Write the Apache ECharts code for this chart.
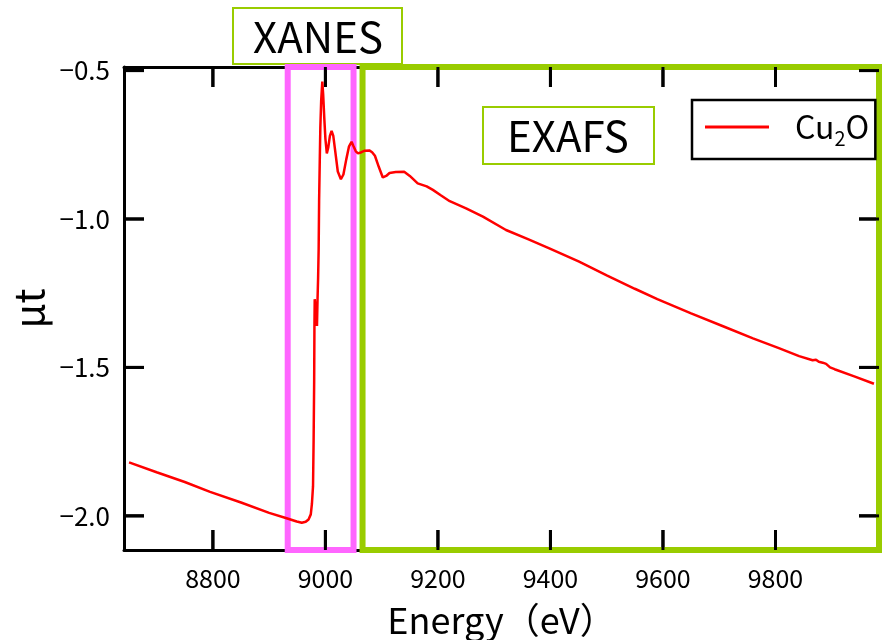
<!DOCTYPE html>
<html>
<head>
<meta charset="utf-8">
<script src="https://cdn.jsdelivr.net/npm/echarts@6/dist/echarts.min.js"></script>
<style>
  html, body { margin: 0; padding: 0; background: #fff; }
  #chart { width: 887px; height: 640px; }
</style>
</head>
<body>
<div id="chart"></div>
<script>
// Cu K-edge absorption of Cu2O
const energy = [
  8651, 8700, 8750, 8795, 8850, 8900, 8931, 8949, 8958, 8965,
  8970, 8974, 8976, 8978, 8979, 8980, 8980.5, 8981, 8985, 8986,
  8987, 8988, 8988.8, 8990, 8991, 8992.5, 8994.5, 8996, 8998, 9000,
  9002.5, 9005, 9008, 9011, 9014, 9018, 9022, 9027.5, 9032, 9037,
  9042, 9046.5, 9050, 9054, 9058, 9064, 9070, 9078, 9083, 9088,
  9095, 9102, 9108, 9114, 9125, 9140, 9150, 9164, 9180, 9191,
  9205, 9221, 9250, 9280, 9321, 9360, 9398, 9450, 9500, 9550,
  9590, 9650, 9709, 9760, 9806, 9842, 9866, 9872, 9877, 9884,
  9890, 9897, 9905, 9940, 9975
]
const mu = [
  -1.820, -1.853, -1.886, -1.919, -1.955, -1.990, -2.008, -2.019, -2.023, -2.020,
  -2.012, -1.995, -1.960, -1.900, -1.750, -1.550, -1.360, -1.270, -1.360, -1.270,
  -1.200, -1.100, -0.940, -0.800, -0.690, -0.600, -0.537, -0.580, -0.660, -0.730,
  -0.779, -0.760, -0.720, -0.703, -0.720, -0.780, -0.840, -0.866, -0.850, -0.800,
  -0.755, -0.740, -0.755, -0.772, -0.779, -0.775, -0.770, -0.769, -0.775, -0.787,
  -0.825, -0.860, -0.855, -0.845, -0.842, -0.841, -0.855, -0.880, -0.890, -0.902,
  -0.920, -0.940, -0.964, -0.992, -1.037, -1.068, -1.099, -1.143, -1.190, -1.235,
  -1.270, -1.318, -1.363, -1.402, -1.435, -1.462, -1.476, -1.474, -1.481, -1.484,
  -1.488, -1.500, -1.506, -1.530, -1.555
]

const xTicks = [8800, 9000, 9200, 9400, 9600, 9800]
const yTicks = [-2.0, -1.5, -1.0, -0.5]
const xRange = [8642, 9984]
const yRange = [-2.115, -0.488]

const xanesRange = [8933, 9050]
const exafsRange = [9066, 9989]

const FONT = '"Noto Sans CJK JP", "Noto Sans", sans-serif'
const GREEN = '#99cc00'
const PINK = '#ff66ff'
const TICK_LEN = 20
const TICK_W = 3

function onTick(list, v) {
  return list.some(t => Math.abs(t - v) < 1e-6)
}

function xLabel(v) {
  return onTick(xTicks, v) ? String(v) : ''
}

function yLabel(v) {
  if (!onTick(yTicks, v)) return ''
  return (v < 0 ? '\u2212' : '') + Math.abs(v).toFixed(1)
}

function xAxisBase(pos) {
  return {
    type: 'value',
    position: pos,
    min: xRange[0],
    max: xRange[1],
    splitNumber: 7,
    axisLine: { show: true, onZero: false, lineStyle: { color: '#000', width: 3 } },
    axisTick: { show: false },
    axisLabel: {
      show: pos === 'bottom',
      showMinLabel: false,
      showMaxLabel: false,
      margin: 16,
      color: '#000',
      fontSize: 25,
      fontFamily: FONT,
      formatter: xLabel
    },
    splitLine: { show: false }
  }
}

function yAxisBase(pos) {
  return {
    type: 'value',
    position: pos,
    min: yRange[0],
    max: yRange[1],
    splitNumber: 3,
    axisLine: { show: true, onZero: false, lineStyle: { color: '#000', width: 3 } },
    axisTick: { show: false },
    axisLabel: {
      show: pos === 'left',
      showMinLabel: false,
      showMaxLabel: false,
      margin: 14,
      color: '#000',
      fontSize: 26,
      fontFamily: FONT,
      formatter: yLabel
    },
    splitLine: { show: false }
  }
}

// inward tick marks as thin bars, placed through the axes' own scales
function tickRect(x, y, w, h) {
  return { type: 'rect', shape: { x, y, width: w, height: h }, style: { fill: '#000' } }
}

function renderXTicks(params, api) {
  const lo = api.coord([api.value(0), yRange[0]])
  const hi = api.coord([api.value(0), yRange[1]])
  return {
    type: 'group',
    children: [
      tickRect(lo[0] - TICK_W / 2, lo[1] - TICK_LEN, TICK_W, TICK_LEN),
      tickRect(hi[0] - TICK_W / 2, hi[1], TICK_W, TICK_LEN)
    ]
  }
}

function renderYTicks(params, api) {
  const l = api.coord([xRange[0], api.value(1)])
  const r = api.coord([xRange[1], api.value(1)])
  return {
    type: 'group',
    children: [
      tickRect(l[0], l[1] - TICK_W / 2, TICK_LEN, TICK_W),
      tickRect(r[0] - TICK_LEN, r[1] - TICK_W / 2, TICK_LEN, TICK_W)
    ]
  }
}

const chart = echarts.init(document.getElementById('chart'))

const xBottom = Object.assign(xAxisBase('bottom'), {
  name: 'Energy（eV）',
  nameLocation: 'middle',
  nameGap: 52,
  nameTextStyle: { fontSize: 36, color: '#000', fontFamily: FONT }
})
const yLeft = Object.assign(yAxisBase('left'), {
  name: 'μt',
  nameLocation: 'middle',
  nameRotate: 90,
  nameGap: 70,
  nameTextStyle: { fontSize: 40, color: '#000', fontFamily: FONT }
})

const boxes = [
  {
    type: 'group', z: 1,
    children: [
      { type: 'rect', shape: { x: 233, y: 8, width: 169, height: 56 },
        style: { fill: '#fff', stroke: GREEN, lineWidth: 2 } },
      { type: 'text', x: 318, y: 37,
        style: { text: 'XANES', font: '42px ' + FONT, fill: '#000', align: 'center', verticalAlign: 'middle' } }
    ]
  },
  {
    type: 'group', z: 1,
    children: [
      { type: 'rect', shape: { x: 483, y: 107, width: 171, height: 57 },
        style: { fill: '#fff', stroke: GREEN, lineWidth: 2 } },
      { type: 'text', x: 568, y: 136,
        style: { text: 'EXAFS', font: '42px ' + FONT, fill: '#000', align: 'center', verticalAlign: 'middle' } }
    ]
  }
]

chart.setOption({
  animation: false,
  grid: { left: 124, right: 8, top: 67, bottom: 90, containLabel: false, outerBoundsMode: 'none' },
  xAxis: [xBottom, xAxisBase('top')],
  yAxis: [yLeft, yAxisBase('right')],
  legend: {
    data: ['Cu₂O'],
    left: 692,
    top: 100,
    orient: 'vertical',
    icon: 'rect',
    itemWidth: 64,
    itemHeight: 3,
    padding: [11, 6, 11, 13],
    borderColor: '#000',
    borderWidth: 2.5,
    backgroundColor: '#fff',
    selectedMode: false,
    formatter: () => '{g|}{a|Cu}{s|2}{a|O}',
    textStyle: {
      rich: {
        g: { width: 21, lineHeight: 42 },
        a: { fontSize: 32, fontFamily: FONT, color: '#000', lineHeight: 42 },
        s: { fontSize: 20, fontFamily: FONT, color: '#000', lineHeight: 42, verticalAlign: 'bottom' }
      }
    }
  },
  graphic: boxes,
  series: [
    {
      name: 'Cu₂O',
      type: 'line',
      data: energy.map((e, i) => [e, mu[i]]),
      showSymbol: false,
      symbol: 'none',
      lineStyle: { color: '#ff0000', width: 2.5 },
      itemStyle: { color: '#ff0000' },
      z: 2
    },
    {
      name: 'xticks',
      type: 'custom',
      data: xTicks.map(v => [v, yRange[0]]),
      renderItem: renderXTicks,
      clip: false,
      silent: true,
      z: 1
    },
    {
      name: 'yticks',
      type: 'custom',
      data: yTicks.map(v => [xRange[0], v]),
      renderItem: renderYTicks,
      clip: false,
      silent: true,
      z: 1
    },
    {
      name: 'regions',
      type: 'line',
      data: [],
      clip: false,
      z: 5,
      markArea: {
        silent: true,
        label: { show: false },
        data: [
          [{ xAxis: xanesRange[0], itemStyle: { color: 'rgba(0,0,0,0)', borderColor: PINK, borderWidth: 6 } }, { xAxis: xanesRange[1] }],
          [{ xAxis: exafsRange[0], itemStyle: { color: 'rgba(0,0,0,0)', borderColor: GREEN, borderWidth: 6 } }, { xAxis: exafsRange[1] }]
        ]
      }
    }
  ]
})

// same ticks again as plain graphics, in case the custom series draws nothing
const extra = []
const gLeft = chart.convertToPixel({ xAxisIndex: 0 }, xRange[0])
const gRight = chart.convertToPixel({ xAxisIndex: 0 }, xRange[1])
const gTop = chart.convertToPixel({ yAxisIndex: 0 }, yRange[1])
const gBottom = chart.convertToPixel({ yAxisIndex: 0 }, yRange[0])
if ([gLeft, gRight, gTop, gBottom].every(isFinite)) {
  xTicks.forEach(v => {
    const px = chart.convertToPixel({ xAxisIndex: 0 }, v)
    extra.push(Object.assign(tickRect(px - TICK_W / 2, gBottom - TICK_LEN, TICK_W, TICK_LEN), { z: 1, silent: true }))
    extra.push(Object.assign(tickRect(px - TICK_W / 2, gTop, TICK_W, TICK_LEN), { z: 1, silent: true }))
  })
  yTicks.forEach(v => {
    const py = chart.convertToPixel({ yAxisIndex: 0 }, v)
    extra.push(Object.assign(tickRect(gLeft, py - TICK_W / 2, TICK_LEN, TICK_W), { z: 1, silent: true }))
    extra.push(Object.assign(tickRect(gRight - TICK_LEN, py - TICK_W / 2, TICK_LEN, TICK_W), { z: 1, silent: true }))
  })
  chart.setOption({ graphic: boxes.concat(extra) })
}
</script>
</body>
</html>
